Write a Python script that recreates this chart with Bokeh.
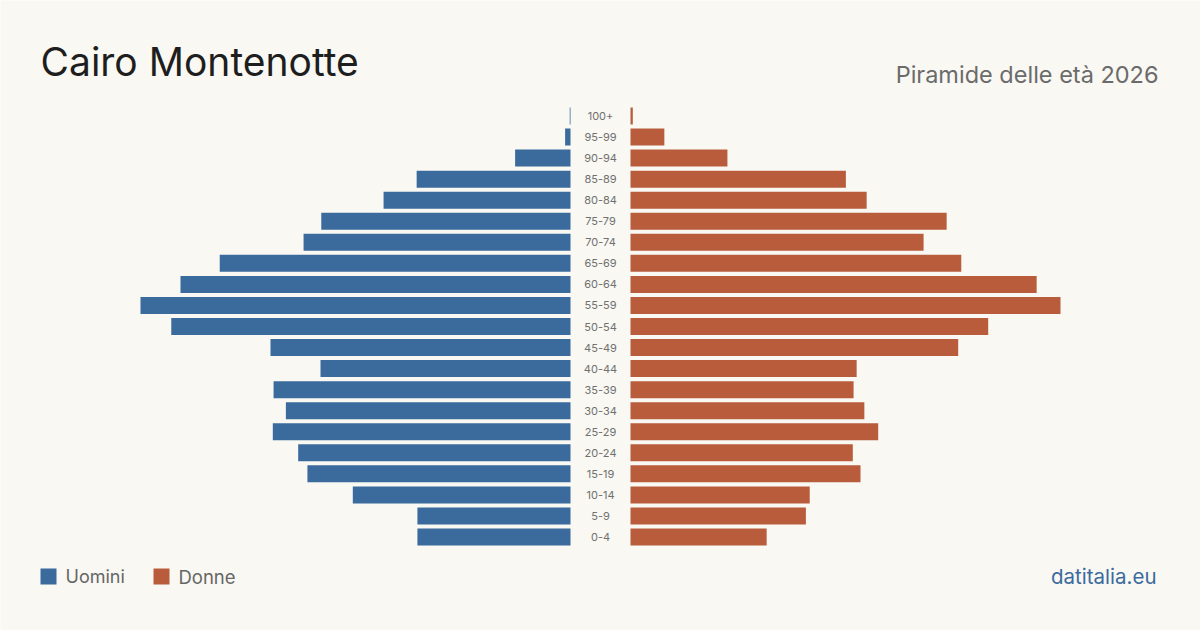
from bokeh.plotting import figure
from bokeh.models import Range1d, Label, ColumnDataSource, BoxAnnotation
from bokeh.embed import file_html
from bokeh.resources import INLINE
from bokeh.core.properties import value

ages = ["0-4", "5-9", "10-14", "15-19", "20-24", "25-29", "30-34", "35-39", "40-44",
        "45-49", "50-54", "55-59", "60-64", "65-69", "70-74", "75-79", "80-84", "85-89",
        "90-94", "95-99", "100+"]
men = [199, 199, 283, 342, 354, 387, 370, 386, 325, 390, 519, 559, 507, 456, 347, 324,
       243, 200, 72, 7, 1]
women = [177, 228, 233, 299, 289, 322, 304, 290, 294, 426, 465, 559, 528, 430, 381, 411,
         307, 280, 126, 44, 3]

title = "Cairo Montenotte"
subtitle = "Piramide delle età 2026"
legend_labels = ["Uomini", "Donne"]
source_label = "datitalia.eu"

BLUE = "#3a6b9c"
ORANGE = "#b95c3c"
BG = "#f9f8f3"

W, H = 1200, 630
max_val = max(max(men), max(women))
bar_px = 430.0          # pixel length of the longest bar
k = max_val / bar_px    # data units per pixel
gap = 30 * k            # half-width of the central label gutter

n = len(ages)
row_px = 21.05
bottom_row_px = 536.5   # pixel y (from top) of the first row centre
y0 = -(H - bottom_row_px) / row_px
y1 = bottom_row_px / row_px

p = figure(width=W, height=H, output_backend="svg", toolbar_location=None,
           x_range=Range1d(-600 * k, 600 * k), y_range=Range1d(y0, y1),
           min_border=0, min_border_left=0, min_border_right=0,
           min_border_top=0, min_border_bottom=0)
p.axis.visible = False
p.grid.visible = False
p.outline_line_color = None
p.background_fill_color = BG
p.border_fill_color = BG

idx = list(range(n))
src = ColumnDataSource(dict(
    y=idx,
    ml=[-gap - v for v in men], mr=[-gap] * n,
    wl=[gap] * n, wr=[gap + v for v in women],
    age=ages, zero=[0] * n,
))
h = 17 / row_px
p.hbar(y="y", left="ml", right="mr", height=h, source=src, color=BLUE, line_color=None)
p.hbar(y="y", left="wl", right="wr", height=h, source=src, color=ORANGE, line_color=None)
p.text(x="zero", y="y", text="age", source=src, text_align="center",
       text_baseline="middle", text_font=value("Inter"),
       text_font_size="11px", text_color="#707070")


def lab(x, y_top_baseline, text, size, color, font="Inter", align="left"):
    p.add_layout(Label(x=x, y=H - y_top_baseline, x_units="screen", y_units="screen",
                       text=text, text_font=font, text_font_size=size,
                       text_color=color, text_align=align, text_baseline="alphabetic"))


lab(40, 61, title, "39px", "#1e1e1e")
lab(1158, 74, subtitle, "23.5px", "#6b6b6b", align="right")

for sx, col in [(40, BLUE), (153, ORANGE)]:
    p.add_layout(BoxAnnotation(left=sx, right=sx + 16, top=H - 568, bottom=H - 584,
                               left_units="screen", right_units="screen",
                               top_units="screen", bottom_units="screen",
                               fill_color=col, fill_alpha=1, line_color=None))
lab(65, 576, legend_labels[0], "18px", "#666666")
lab(178, 576, legend_labels[1], "18.5px", "#666666")
lab(1156, 576, source_label, "20.5px", "#3a6a9e", align="right")

open("out.html", "w").write(file_html(p, INLINE))
